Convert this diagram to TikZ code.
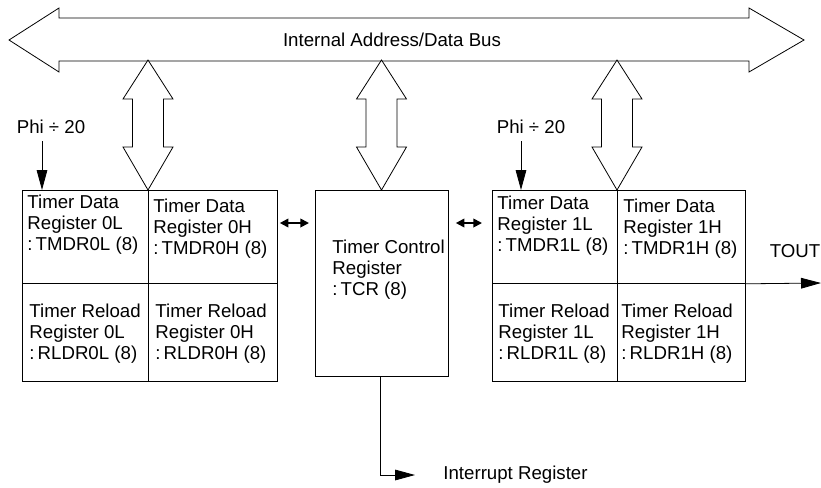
\documentclass[tikz,border=0pt]{standalone}
\usepackage{fontspec}
\setmainfont{Liberation Sans}
\usetikzlibrary{arrows.meta,calc,positioning}
\newcommand{\fatport}[1]{\begin{scope}[shift={#1}]
  \draw[fill=white] (0,0)--(25,39)--(15.5,39)--(15.5,87)--(25,87)--(0,130)--(-25,87)--(-15.5,87)--(-15.5,39)--(-25,39)--cycle;\end{scope}}

\begin{document}
\begin{tikzpicture}[x=0.75pt,y=-0.75pt,line width=0.6pt,
  cell/.style={draw,rectangle,inner sep=0pt,anchor=north west},
  txt/.style={inner sep=0pt,anchor=north west,align=left,font=\fontsize{14}{15.75}\selectfont},
  lbl/.style={inner sep=0pt,font=\fontsize{14}{15.75}\selectfont},
  sig/.style={-{Triangle[length=15pt,width=8pt]}},
  dbl/.style={{Triangle[length=6.5pt,width=6.5pt]}-{Triangle[length=6.5pt,width=6.5pt]},line width=1.3pt}]
\useasboundingbox (0,0) rectangle (821,487);
% bus
\draw (9,40)--(59,8)--(59,18)--(749,18)--(749,8)--(804,40)--(749,72)--(749,61)--(59,61)--(59,72)--cycle;
\node[lbl] (bus) at (392,40) {Internal Address/Data Bus};
\fatport{(148,60)}
\fatport{(381.5,60)}
\fatport{(617,60)}
% timer 0
\node[cell,minimum width=94.5pt,minimum height=69.75pt] (tmdr0l) at (22,190) {};
\node[cell,minimum width=96.75pt,minimum height=69.75pt] (tmdr0h) at (148,190) {};
\node[cell,minimum width=94.5pt,minimum height=73.5pt] (rldr0l) at (22,283) {};
\node[cell,minimum width=96.75pt,minimum height=73.5pt] (rldr0h) at (148,283) {};
\node[txt] at (27,195) {Timer Data\\Register 0L\\:\,TMDR0L (8)};
\node[txt] at (153,199) {Timer Data\\Register 0H\\:\,TMDR0H (8)};
\node[txt] at (29,304) {Timer Reload\\Register 0L\\:\,RLDR0L (8)};
\node[txt] at (155,304) {Timer Reload\\Register 0H\\:\,RLDR0H (8)};
% control
\node[cell,minimum width=99.75pt,minimum height=139.5pt] (tcr) at (315,190) {};
\node[txt] at (332,240) {Timer Control\\Register\\:\,TCR (8)};
% timer 1
\node[cell,minimum width=93.75pt,minimum height=69.75pt] (tmdr1l) at (492,190) {};
\node[cell,minimum width=96pt,minimum height=69.75pt] (tmdr1h) at (617,190) {};
\node[cell,minimum width=93.75pt,minimum height=73.5pt] (rldr1l) at (492,283) {};
\node[cell,minimum width=96pt,minimum height=73.5pt] (rldr1h) at (617,283) {};
\node[txt] at (497,196) {Timer Data\\Register 1L\\:\,TMDR1L (8)};
\node[txt] at (623,199) {Timer Data\\Register 1H\\:\,TMDR1H (8)};
\node[txt] at (498,304) {Timer Reload\\Register 1L\\:\,RLDR1L (8)};
\node[txt] at (621,304) {Timer Reload\\Register 1H\\:\,RLDR1H (8)};
% clocks and outputs
\node[lbl] (phi0) at (51,127) {Phi ÷ 20};
\node[lbl] (phi1) at (531,127) {Phi ÷ 20};
\draw[sig] ([shift={(-9,7)}]phi0.south) coordinate (p0) -- (p0 |- tmdr0l.north);
\draw[sig] ([shift={(-10,7)}]phi1.south) coordinate (p1) -- (p1 |- tmdr1l.north);
\draw[dbl] ([shift={(2,33)}]tmdr0h.north east) -- ([shift={(-6,33)}]tcr.north west);
\draw[dbl] ([shift={(7,33)}]tcr.north east) -- ([shift={(-10,33)}]tmdr1l.north west);
\node[lbl] (tout) at (795,251) {TOUT};
\coordinate (toutend) at (821,283);
\draw[sig] (tmdr1h.south east) -- (toutend);
\node[lbl,anchor=west] (intr) at (443,475) {Interrupt Register};
\draw[sig] ([xshift=-1.5]tcr.south) |- ([xshift=-21]intr.west);
\end{tikzpicture}
\end{document}
